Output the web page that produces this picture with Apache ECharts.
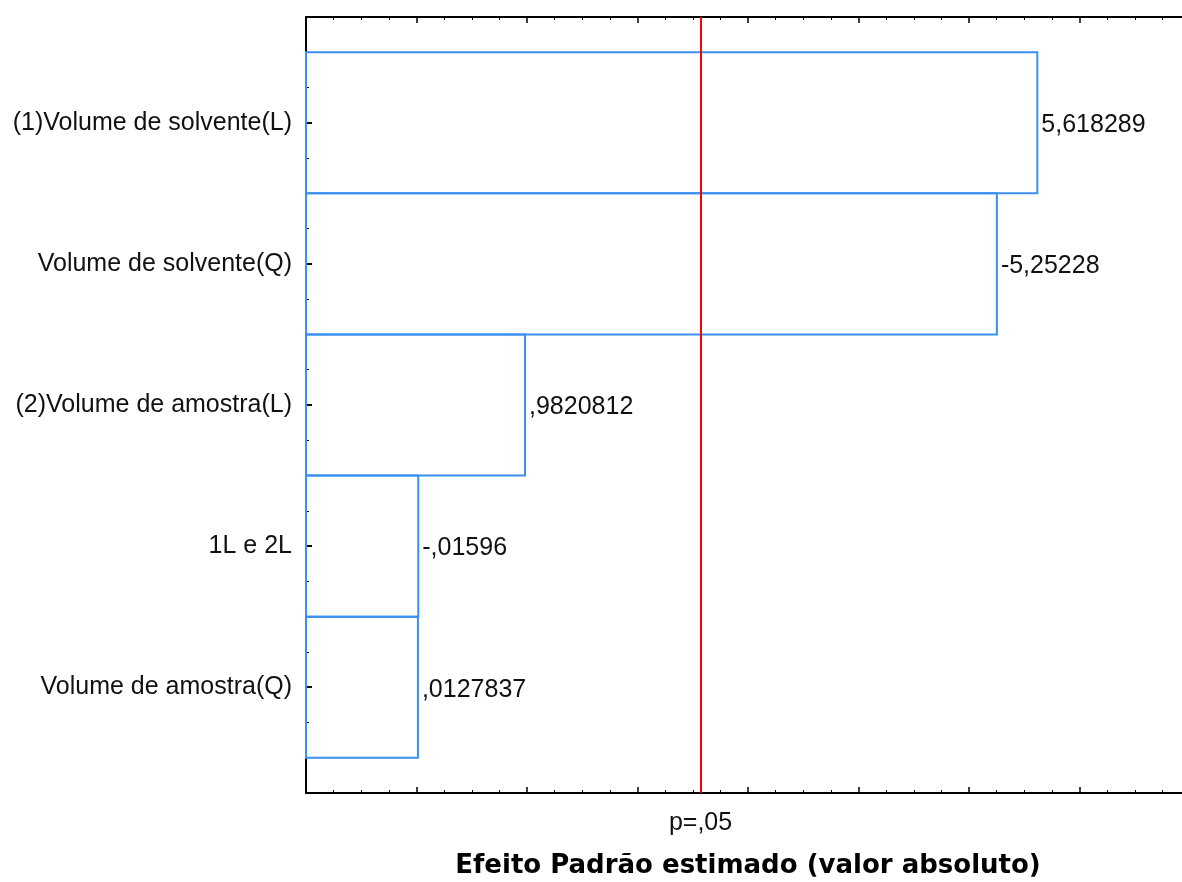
<!DOCTYPE html>
<html><head><meta charset="utf-8">
<script src="https://cdn.jsdelivr.net/npm/echarts@6/dist/echarts.min.js"></script>
<style>html,body{margin:0;padding:0;background:#fff}#c{width:1182px;height:882px}</style>
</head><body><div id="c"></div>
<script>
// ---- data ----
const categories = ['(1)Volume de solvente(L)', 'Volume de solvente(Q)', '(2)Volume de amostra(L)', '1L e 2L', 'Volume de amostra(Q)'];
const effects = [5.618289, -5.25228, 0.9820812, -0.01596, 0.0127837];
const effectLabels = ['5,618289', '-5,25228', ',9820812', '-,01596', ',0127837'];
const pCrit = 2.5706;
const pLabel = 'p=,05';
const axisTitle = 'Efeito Padrão estimado (valor absoluto)';
const xMin = -1, xMax = 7, xInterval = 1;
const yMin = 0.25, yMax = 5.75;
const catPositions = [1, 2, 3, 4, 5];

// ---- styling ----
const FONT = '"Liberation Sans", Arial, sans-serif';
const BLUE = '#3990f0';
const minorY = [];
for (let v = yMin; v <= yMax + 1e-9; v += 0.25) { if (Math.abs(v - Math.round(v)) > 1e-6) minorY.push(+v.toFixed(2)); }

const barData = effects.map((e, i) => [Math.abs(e), catPositions[i]]);

const chart = echarts.init(document.getElementById('c'), null, {renderer: 'canvas'});
const baseX = {
  type: 'value', min: xMin, max: xMax, interval: xInterval,
  axisLine: {show: true, onZero: false, lineStyle: {color: '#000', width: 2}},
  axisTick: {show: true, inside: true, length: 6, lineStyle: {color: '#000', width: 1.5}},
  minorTick: {show: true, splitNumber: 4, length: 3, lineStyle: {color: '#000', width: 1}},
  splitLine: {show: false}, minorSplitLine: {show: false}
};
const baseY = {
  type: 'value', min: yMin, max: yMax, inverse: true,
  splitLine: {show: false}
};
chart.setOption({
  animation: false,
  backgroundColor: '#fff',
  grid: {left: 306, top: 17, width: 884, height: 776, containLabel: false, outerBoundsMode: 'none'},
  xAxis: [
    Object.assign({}, baseX, {
      position: 'bottom',
      axisLabel: {show: true, customValues: [pCrit], formatter: () => pLabel, margin: 18,
        fontFamily: FONT, fontSize: 25, color: '#111'},
      name: axisTitle, nameLocation: 'middle', nameGap: 60,
      nameTextStyle: {fontFamily: '"DejaVu Sans", sans-serif', fontWeight: 'bold', fontSize: 26, color: '#000'}
    }),
    Object.assign({}, baseX, {position: 'top', axisLabel: {show: false}})
  ],
  yAxis: [
    Object.assign({}, baseY, {
      position: 'left',
      axisLine: {show: true, onZero: false, lineStyle: {color: '#000', width: 2}},
      axisTick: {show: true, inside: true, length: 6, customValues: catPositions, lineStyle: {color: '#000', width: 2}},
      axisLabel: {show: true, customValues: catPositions, formatter: v => categories[Math.round(v) - 1],
        margin: 14, padding: [5, 0, 0, 0], fontFamily: FONT, fontSize: 25, color: '#111'}
    }),
    Object.assign({}, baseY, {
      position: 'left',
      axisLine: {show: false, onZero: false},
      axisTick: {show: true, inside: true, length: 3, customValues: minorY, lineStyle: {color: '#000', width: 1}},
      axisLabel: {show: false}
    }),
    Object.assign({}, baseY, {
      position: 'right',
      axisLine: {show: true, onZero: false, lineStyle: {color: '#000', width: 2}},
      axisTick: {show: true, inside: true, length: 6, customValues: catPositions, lineStyle: {color: '#000', width: 2}},
      axisLabel: {show: false}
    })
  ],
  series: [{
    type: 'custom',
    xAxisIndex: 0, yAxisIndex: 0,
    data: barData,
    renderItem: function (params, api) {
      const v = api.value(0), pos = api.value(1);
      const p0 = api.coord([xMin, pos - 0.5]);
      const p1 = api.coord([v, pos + 0.5]);
      const x = p0[0], w = p1[0] - p0[0];
      const y = Math.min(p0[1], p1[1]), h = Math.abs(p1[1] - p0[1]);
      return {
        type: 'group',
        children: [
          {type: 'rect', shape: {x: x, y: y, width: w, height: h},
            style: {fill: 'rgba(0,0,0,0)', stroke: BLUE, lineWidth: 2}},
          {type: 'text', x: x + w + 4, y: y + h / 2 + 2.5,
            style: {text: effectLabels[params.dataIndex], fill: '#111',
              font: '25px "Liberation Sans", Arial, sans-serif', verticalAlign: 'middle', align: 'left'}}
        ]
      };
    },
    markLine: {
      silent: true, symbol: ['none', 'none'],
      label: {show: false},
      lineStyle: {color: '#ff0000', width: 2, type: 'solid'},
      data: [{xAxis: pCrit}]
    },
    z: 3
  }]
});
</script>
</body></html>
